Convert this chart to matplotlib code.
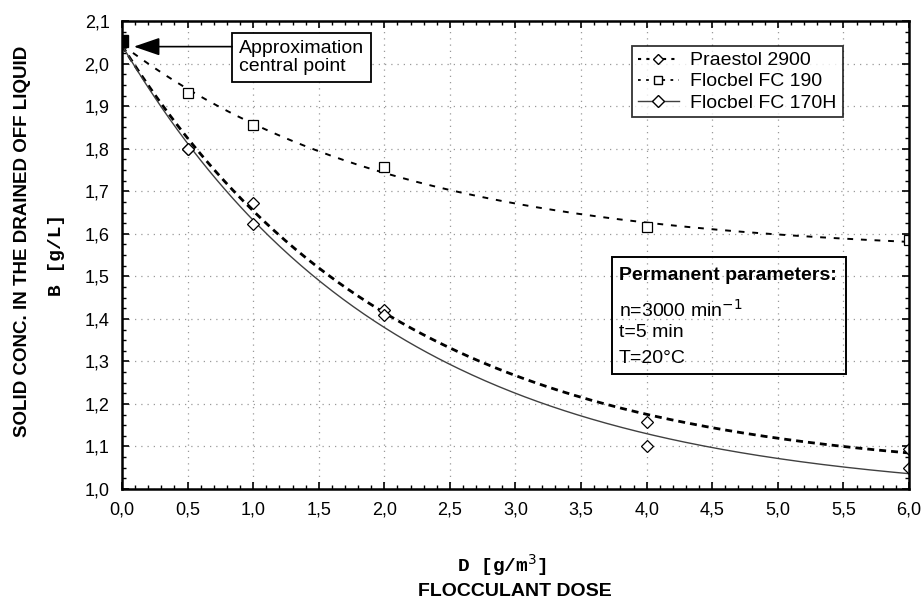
import numpy as np
import matplotlib
matplotlib.use("Agg")
import matplotlib.pyplot as plt
from matplotlib.ticker import MultipleLocator, FuncFormatter

plt.rcParams['font.family'] = ['Liberation Sans', 'DejaVu Sans']

# data
dose = [0.0, 0.5, 1.0, 2.0, 4.0, 6.0]
praestol_2900 = [2.05, 1.80, 1.673, 1.42, 1.158, 1.095]
flocbel_fc190 = [2.05, 1.93, 1.856, 1.758, 1.615, 1.585]
flocbel_fc170h = [2.05, 1.80, 1.623, 1.41, 1.10, 1.05]
central_x, central_y = 0.0, 2.053

x_ticks = np.arange(0, 6.01, 0.5)
y_ticks = np.arange(1.0, 2.101, 0.1)


def fit_exp(x, y):
    # y = c + a*exp(-b x): grid search on b, least squares for a and c
    x = np.asarray(x, float)
    y = np.asarray(y, float)
    best = None
    for b in np.linspace(0.05, 3, 600):
        A = np.column_stack([np.ones_like(x), np.exp(-b * x)])
        coef, *_ = np.linalg.lstsq(A, y, rcond=None)
        err = np.sum((A @ coef - y) ** 2)
        if best is None or err < best[0]:
            best = (err, b, coef)
    _, b, (c, a) = best
    return lambda t: c + a * np.exp(-b * t)


fig = plt.figure(figsize=(9.23, 6.03), dpi=100)
ax = fig.add_axes([0.1322, 0.189, 0.8526, 0.776])

xs = np.linspace(0, 6, 300)
ax.plot(xs, fit_exp(dose, flocbel_fc190)(xs), color='black', lw=1.4, ls=(0, (3, 4)))
ax.plot(xs, fit_exp(dose, praestol_2900)(xs), color='black', lw=2.0, ls=(0, (2.5, 1.8)))
ax.plot(xs, fit_exp(dose, flocbel_fc170h)(xs), color='#404040', lw=1.0, ls='-')

mk = dict(mfc='white', mec='black', mew=0.9, ls='none')
ax.plot(dose[1:], praestol_2900[1:], marker='D', ms=6, **mk)
ax.plot(dose[1:], flocbel_fc190[1:], marker='s', ms=7, **mk)
ax.plot(dose[1:], flocbel_fc170h[1:], marker='D', ms=6, **mk)

ax.plot(central_x, central_y, marker='s', ms=9, color='black', clip_on=True)

# legend proxies
h1, = ax.plot([], [], color='black', lw=1.5, ls=(0, (1.5, 2.5)), marker='D', mfc='white', mec='black', ms=5)
h2, = ax.plot([], [], color='black', lw=1.3, ls=(0, (1.5, 3)), marker='s', mfc='white', mec='black', ms=6)
h3, = ax.plot([], [], color='#404040', lw=1.0, marker='D', mfc='white', mec='black', ms=6)
leg = ax.legend([h1, h2, h3], ['Praestol 2900', 'Flocbel FC 190', 'Flocbel FC 170H'],
                loc='upper left', bbox_to_anchor=(0.648, 0.947), fontsize=14,
                frameon=True, fancybox=False, edgecolor='black', handlelength=2.1,
                borderpad=0.3, labelspacing=0.18, handletextpad=0.6, borderaxespad=0)
leg.get_frame().set_linewidth(1.3)

ax.set_xlim(0, 6)
ax.set_ylim(1.0, 2.1)
ax.set_xticks(x_ticks)
ax.set_yticks(y_ticks)
ax.xaxis.set_minor_locator(MultipleLocator(0.1))
ax.yaxis.set_minor_locator(MultipleLocator(0.025))
comma = FuncFormatter(lambda v, p: f'{v:.1f}'.replace('.', ','))
ax.xaxis.set_major_formatter(comma)
ax.yaxis.set_major_formatter(comma)
ax.tick_params(which='both', direction='in', top=True, right=True, labelsize=13)
ax.tick_params(which='major', length=5, width=1.2)
ax.tick_params(which='minor', length=3, width=1.0)
ax.tick_params(axis='x', pad=9)
ax.tick_params(axis='y', pad=9)
for s in ax.spines.values():
    s.set_linewidth(1.8)
ax.grid(True, which='major', ls=(0, (1, 4)), color='#999999', lw=0.9)

# central point annotation: box plus arrow from its left edge
ax.text(0.894, 2.015, 'Approximation\ncentral point', fontsize=14, ha='left', va='center',
        linespacing=1.1,
        bbox=dict(boxstyle='square,pad=0.35', fc='white', ec='black', lw=1.3))
ax.annotate('', xy=(0.09, 2.04), xytext=(0.84, 2.04),
            arrowprops=dict(arrowstyle='-|>,head_length=1.6,head_width=0.55',
                            color='black', lw=1.2, mutation_scale=10, shrinkA=0, shrinkB=0))

# permanent parameters box
ax.add_patch(plt.Rectangle((3.735, 1.2704), 1.783, 0.275, fill=False, ec='black', lw=1.4, zorder=3))
ax.text(3.79, 1.503, 'Permanent parameters:', fontsize=14, fontweight='bold', ha='left', va='center')
ax.text(3.79, 1.421, 'n=3000 min$^{-1}$', fontsize=14, ha='left', va='center')
ax.text(3.79, 1.367, 't=5 min', fontsize=14, ha='left', va='center')
ax.text(3.79, 1.308, 'T=20°C', fontsize=14, ha='left', va='center')

fig.text(0.024, 0.60, 'SOLID CONC. IN THE DRAINED OFF LIQUID', rotation=90,
         fontsize=13.5, fontweight='bold', ha='center', va='center')
fig.text(0.061, 0.577, 'B [g/L]', rotation=90, family='Liberation Mono',
         fontsize=14, fontweight='bold', ha='center', va='center')
fig.text(0.544, 0.063, 'D [g/m$^3$]', family='Liberation Mono',
         fontsize=14, fontweight='bold', ha='center', va='center')
fig.text(0.558, 0.019, 'FLOCCULANT DOSE', fontsize=14, fontweight='bold', ha='center', va='center')

fig.savefig('out.png', dpi=100)
